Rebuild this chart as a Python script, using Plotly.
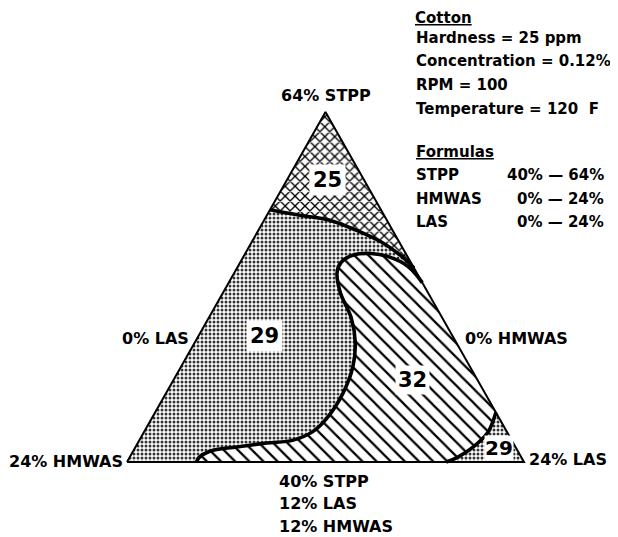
import plotly.graph_objects as go

# ---------------- data (weight %, HMWAS = 64 - STPP - LAS) ----------------
TOTAL = 64
STPP_MIN = 40
SPAN = 24

# contour 25 | 29 boundary (0% LAS edge -> 0% HMWAS edge)
c25_stpp = [57.3, 56.9, 56.6, 55.9, 55.1, 54.2, 53.3]
c25_las = [0.0, 2.1, 3.9, 5.9, 7.8, 9.4, 10.7]

# contour 32 boundary (0% HMWAS edge -> 40% STPP edge)
c32_stpp = [52.3, 53.4, 54.1, 54.3, 54.2, 53.7, 53.0, 51.6, 49.9, 48.2,
            46.5, 44.7, 43.1, 42.1, 41.5, 41.3, 41.0, 40.8, 40.3, 40.0]
c32_las = [11.7, 10.3, 8.7, 7.6, 6.6, 6.1, 6.2, 7.1, 8.6, 9.7,
           10.4, 10.7, 10.6, 10.2, 9.3, 7.8, 5.9, 4.8, 4.2, 4.2]

# contour 32 | 29 boundary near the 24% LAS corner
c29_stpp = [43.4, 42.0, 41.0, 40.3, 40.0]
c29_las = [20.6, 20.8, 20.4, 19.8, 19.3]

# corner / edge labels
corner_labels = ["64% STPP", "24% HMWAS", "24% LAS"]
edge_labels = ["0% LAS", "0% HMWAS"]
bottom_labels = ["40% STPP", "12% LAS", "12% HMWAS"]
region_values = ["25", "29", "32", "29"]

header_lines = ["<u>Cotton</u>", "Hardness = 25 ppm", "Concentration = 0.12%",
                "RPM = 100", "Temperature = 120\u00a0 F"]
formula_names = ["STPP", "HMWAS", "LAS"]
formula_ranges = ["40% \u2014 64%", "0% \u2014 24%", "0% \u2014 24%"]


def to_xy(stpp, las):
    xs, ys = [], []
    for s, l in zip(stpp, las):
        ps = (s - STPP_MIN) / SPAN
        pl = l / SPAN
        xs.append(pl + 0.5 * ps)
        ys.append(ps)
    return xs, ys


# triangle vertices as compositions: (STPP, LAS)
tri_stpp = [STPP_MIN, STPP_MIN, TOTAL, STPP_MIN]
tri_las = [0, SPAN, 0, 0]
tx, ty = to_xy(tri_stpp, tri_las)

ax_, ay_ = to_xy(c25_stpp, c25_las)
bx_, by_ = to_xy(c32_stpp, c32_las)
cx_, cy_ = to_xy(c29_stpp, c29_las)
apx, apy = to_xy([TOTAL], [0])

FONT = "DejaVu Sans"
fig = go.Figure()

# 29 region (stipple) - whole triangle as base
fig.add_trace(go.Scatter(
    x=tx, y=ty, mode="lines", fill="toself", line=dict(width=0),
    fillcolor="white",
    fillpattern=dict(shape=".", size=4, solidity=0.45, fgcolor="#333",
                     bgcolor="white", fillmode="replace")))

# 25 region (zig-zag)
fig.add_trace(go.Scatter(
    x=ax_ + apx + [ax_[0]], y=ay_ + apy + [ay_[0]], mode="lines", fill="toself",
    line=dict(width=0), fillcolor="white",
    fillpattern=dict(shape="x", size=7, solidity=0.35, fgcolor="black",
                     bgcolor="white", fillmode="replace")))

# 32 region (diagonal hatch)
px32 = bx_ + cx_[::-1] + [bx_[0]]
py32 = by_ + cy_[::-1] + [by_[0]]
fig.add_trace(go.Scatter(
    x=px32, y=py32, mode="lines", fill="toself", line=dict(width=0),
    fillcolor="white",
    fillpattern=dict(shape="\\", size=10, solidity=0.22, fgcolor="black",
                     bgcolor="white", fillmode="replace")))

# contour boundaries
for xs, ys in [(ax_, ay_), (bx_, by_), (cx_, cy_)]:
    fig.add_trace(go.Scatter(x=xs, y=ys, mode="lines",
                             line=dict(color="black", width=3.6, shape="spline",
                                       smoothing=1.0)))

# triangle outline
fig.add_trace(go.Scatter(x=tx, y=ty, mode="lines",
                         line=dict(color="black", width=2)))

# page body has an 8 px margin: figure is drawn 8 px in from the window corner
OFF = 8
W, H = 618 - OFF, 537 - OFF
# axis ranges: 1 unit of base = 397 px, 1 unit of height = 350 px
x0, xs_ = 127 - OFF, 397
y0, ys_ = 462 - OFF, 350
xr = [-x0 / xs_, (W - x0) / xs_]
yr = [-(H - y0) / ys_, y0 / ys_]


def pxp(px):
    return (px - OFF) / W


def pyp(py):
    return 1 - (py - OFF) / H


ann = []
lab = dict(family=FONT, size=16, color="black")
ann.append(dict(x=0.5, y=1, text="<b>%s</b>" % corner_labels[0], xanchor="center",
                yanchor="bottom", yshift=5, showarrow=False, font=lab))
ann.append(dict(x=0, y=0, text="<b>%s</b>" % corner_labels[1], xanchor="right",
                yanchor="middle", xshift=-2, yshift=1, showarrow=False, font=lab))
ann.append(dict(x=1, y=0, text="<b>%s</b>" % corner_labels[2], xanchor="left",
                yanchor="middle", xshift=3, yshift=3, showarrow=False, font=lab))
ann.append(dict(x=0.177, y=0.354, text="<b>%s</b>" % edge_labels[0], xanchor="right",
                yanchor="middle", xshift=-6, showarrow=False, font=lab))
ann.append(dict(x=0.823, y=0.354, text="<b>%s</b>" % edge_labels[1], xanchor="left",
                yanchor="middle", xshift=9, showarrow=False, font=lab))
for i, t in enumerate(bottom_labels):
    ann.append(dict(xref="paper", yref="paper", x=pxp(277), y=pyp(481 + 22.5 * i),
                    text="<b>%s</b>" % t, xanchor="left", yanchor="middle",
                    showarrow=False, font=lab))

num_pos = [(327, 180), (264, 336), (412, 380), (499, 448)]
num_size = [21, 21, 21, 20]
num_pad = [3, 3, 2, 0]
for t, (px, py), fs, pad in zip(region_values, num_pos, num_size, num_pad):
    ann.append(dict(xref="paper", yref="paper", x=pxp(px), y=pyp(py),
                    xanchor="center", yanchor="middle",
                    text="<b>%s</b>" % t, showarrow=False,
                    font=dict(family=FONT, size=fs, color="black"),
                    bgcolor="white", borderpad=pad))

hdr = dict(family=FONT, size=15, color="black")
# first line: box top aligned to the figure top
ann.append(dict(xref="paper", yref="paper", x=pxp(414), y=1,
                text="<b>%s</b>" % header_lines[0], xanchor="left", yanchor="top",
                borderpad=0, showarrow=False, font=hdr))
for t, py in zip(header_lines[1:], [38, 61, 85, 109]):
    ann.append(dict(xref="paper", yref="paper", x=pxp(414), y=pyp(py),
                    text="<b>%s</b>" % t, xanchor="left", yanchor="middle",
                    showarrow=False, font=hdr))
ann.append(dict(xref="paper", yref="paper", x=pxp(414), y=pyp(152),
                text="<b><u>Formulas</u></b>", xanchor="left", yanchor="middle",
                showarrow=False, font=hdr))
for i, (n, r) in enumerate(zip(formula_names, formula_ranges)):
    py = 175 + 23.5 * i
    ann.append(dict(xref="paper", yref="paper", x=pxp(414), y=pyp(py),
                    text="<b>%s</b>" % n, xanchor="left", yanchor="middle",
                    showarrow=False, font=hdr))
    ann.append(dict(xref="paper", yref="paper", x=pxp(606), y=pyp(py),
                    text="<b>%s</b>" % r, xanchor="right", yanchor="middle",
                    showarrow=False, font=hdr))

fig.update_layout(
    width=W, height=H, margin=dict(l=0, r=0, t=0, b=0),
    paper_bgcolor="white", plot_bgcolor="white", showlegend=False,
    hovermode=False,
    xaxis=dict(range=xr, visible=False, fixedrange=True),
    yaxis=dict(range=yr, visible=False, fixedrange=True),
    annotations=ann,
)

fig.write_html("out.html")
